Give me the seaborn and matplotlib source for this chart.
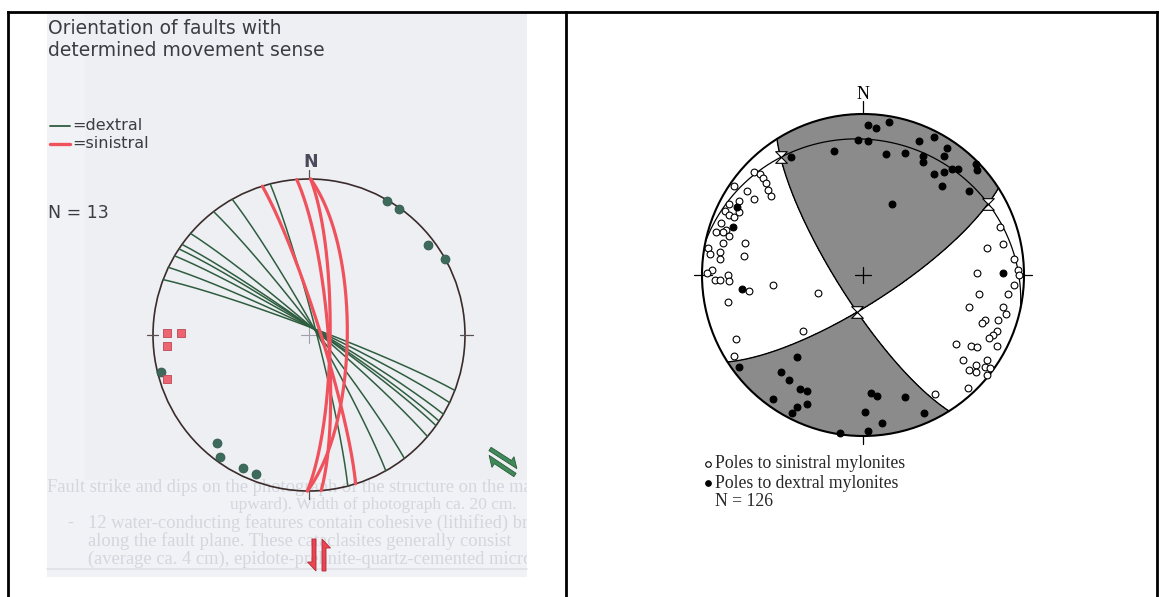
import numpy as np
import matplotlib
matplotlib.use("Agg")
import matplotlib.pyplot as plt
from matplotlib.patches import Rectangle, Polygon, Circle
from matplotlib.path import Path
import seaborn as sns

W, H = 1159, 597

# ---------------- left net: faults with determined movement sense ----------------
# fault planes as (dip direction, dip) in degrees
dextral_dipdir = [75.6, 60.5, 52.3, 40.6, 35.5, 33.5, 30.5, 25.7, 20.8]
dextral_dip = [86, 86, 86, 86, 86, 86, 86, 86, 86]
sinistral_dipdir = [72.6, 85.5, 90.6, 90.6]
sinistral_dip = [84, 80, 70, 79]
# poles, as east / north offsets in net radii
dextral_pole_e = [0.50, 0.58, 0.76, 0.87, -0.95, -0.59, -0.57, -0.42, -0.34]
dextral_pole_n = [0.86, 0.81, 0.58, 0.49, -0.24, -0.69, -0.78, -0.85, -0.89]
sinistral_pole_e = [-0.91, -0.82, -0.91, -0.91]
sinistral_pole_n = [0.01, 0.01, -0.07, -0.28]

# ---------------- right net: mylonites ----------------
nodal_dipdir = [237.7, 147.3]
nodal_dip = [77.2, 75.6]
girdle_dipdir = 12.0
girdle_dip = 17.0

dextral_myl_e = [0.03, 0.08, 0.16, -0.03, 0.03, -0.18, -0.45, 0.14, 0.26, 0.35, 0.44, 0.52,
                 0.37, 0.37, 0.50, 0.44, 0.50, 0.55, 0.59, 0.70, 0.71, 0.49, 0.66, 0.18,
                 -0.78, -0.81, -0.75, 0.87,
                 -0.77, -0.41, -0.51, -0.46, -0.39, -0.35, -0.56, -0.41, -0.35, -0.44,
                 0.05, 0.09, 0.26, 0.01, 0.12, 0.38, -0.14, 0.03]
dextral_myl_n = [0.93, 0.91, 0.95, 0.84, 0.83, 0.77, 0.73, 0.75, 0.76, 0.83, 0.86, 0.79,
                 0.74, 0.70, 0.74, 0.63, 0.64, 0.66, 0.66, 0.69, 0.65, 0.55, 0.52, 0.44,
                 0.42, 0.30, -0.09, 0.01,
                 -0.57, -0.51, -0.60, -0.65, -0.71, -0.72, -0.77, -0.82, -0.80, -0.86,
                 -0.73, -0.75, -0.76, -0.85, -0.92, -0.86, -0.98, -0.97]
sinistral_myl_e = [-0.68, -0.64, -0.62, -0.60, -0.59, -0.57, -0.72, -0.68, -0.80, -0.77,
                   -0.83, -0.86, -0.83, -0.80, -0.77, -0.88, -0.85, -0.91, -0.87, -0.83,
                   -0.87, -0.73, -0.74, -0.96, -0.95, -0.89, -0.89, -0.94, -0.97, -0.92,
                   -0.89, -0.84, -0.83, -0.56, -0.71, -0.84, -0.28, -0.37, -0.79, -0.80,
                   0.85, 0.87, 0.77, 0.94, 0.96, 0.71, 0.97, 0.94, 0.90, 0.72, 0.66, 0.87,
                   0.89, 0.76, 0.74, 0.84, 0.83, 0.81, 0.78, 0.58, 0.67, 0.71, 0.83, 0.62,
                   0.70, 0.66, 0.70, 0.77, 0.76, 0.79, 0.77, 0.65, 0.45]
sinistral_myl_n = [0.64, 0.63, 0.60, 0.57, 0.53, 0.49, 0.52, 0.47, 0.55, 0.46,
                   0.44, 0.40, 0.37, 0.36, 0.39, 0.32, 0.28, 0.27, 0.27, 0.24,
                   0.20, 0.20, 0.12, 0.17, 0.13, 0.14, 0.10, 0.03, 0.01, -0.03,
                   -0.03, 0.00, -0.04, -0.06, -0.10, -0.17, -0.11, -0.35, -0.40, -0.50,
                   0.30, 0.19, 0.17, 0.10, 0.03, 0.01, 0.00, -0.06, -0.12, -0.12, -0.20, -0.20,
                   -0.24, -0.28, -0.30, -0.28, -0.35, -0.37, -0.39, -0.43, -0.44, -0.45, -0.44, -0.53,
                   -0.56, -0.59, -0.60, -0.53, -0.57, -0.58, -0.62, -0.70, -0.74]

LEFT_TITLE = "Orientation of faults with\ndetermined movement sense"
LEFT_LEGEND = ["=dextral", "=sinistral"]
LEFT_COUNT = "N = 13"
RIGHT_LEGEND = ["Poles to sinistral mylonites", "Poles to dextral mylonites"]
RIGHT_COUNT = "N = 126"
PAGE_LINES = [
    "Fault strike and dips on the photograph of the structure on the map/bud",
    "upward). Width of photograph ca. 20 cm.",
    "12 water-conducting features contain cohesive (lithified) bri",
    "along the fault plane. These cataclasites generally consist",
    "(average ca. 4 cm), epidote-prehnite-quartz-cemented microb",
]


# ---------------- projection helpers (lower hemisphere, equal area) ----------------
def project(v):
    v = np.atleast_2d(np.asarray(v, float))
    v = v / np.linalg.norm(v, axis=1, keepdims=True)
    v = np.where(v[:, 2:3] > 0, -v, v)
    plunge = np.arcsin(np.clip(-v[:, 2], -1, 1))
    trend = np.arctan2(v[:, 0], v[:, 1])
    r = np.sqrt(2) * np.sin((np.pi / 2 - plunge) / 2)
    return r * np.sin(trend), r * np.cos(trend)


def plane_normal(dipdir, dip):
    d, p = np.radians(dipdir), np.radians(dip)
    return np.array([np.sin(d) * np.sin(p), np.cos(d) * np.sin(p), np.cos(p)])


def great_circle(dipdir, dip, n=241):
    t = np.radians(np.linspace(0, 180, n))
    st = np.radians(dipdir - 90)
    d, p = np.radians(dipdir), np.radians(dip)
    s = np.array([np.sin(st), np.cos(st), 0.0])
    dv = np.array([np.sin(d) * np.cos(p), np.cos(d) * np.cos(p), -np.sin(p)])
    v = np.outer(np.cos(t), s) + np.outer(np.sin(t), dv)
    return project(v)


def inverse_project(x, y):
    r = np.hypot(x, y)
    colat = 2 * np.arcsin(np.clip(r / np.sqrt(2), 0, 1))
    trend = np.arctan2(x, y)
    return np.stack([np.sin(colat) * np.sin(trend),
                     np.sin(colat) * np.cos(trend),
                     -np.cos(colat)], axis=-1)


def net_axes(fig, cx, cy, R, pad=1.3):
    ax = fig.add_axes([(cx - pad * R) / W, 1 - (cy + pad * R) / H,
                       2 * pad * R / W, 2 * pad * R / H])
    ax.set_xlim(-pad, pad)
    ax.set_ylim(-pad, pad)
    ax.axis("off")
    ax.patch.set_alpha(0)
    return ax


def half_arrow(ax, p0, p1, outward, color, edge, t=4.0, hl=9.0, bw=4.5):
    p0, p1, nv = np.array(p0, float), np.array(p1, float), np.array(outward, float)
    u = (p1 - p0) / np.linalg.norm(p1 - p0)
    nv = nv / np.linalg.norm(nv)
    pts = [p0 - nv * t / 2, p1 - nv * t / 2, p1 - u * hl + nv * (t / 2 + bw),
           p1 - u * hl + nv * t / 2, p0 + nv * t / 2]
    ax.add_patch(Polygon(pts, closed=True, facecolor=color, edgecolor=edge, lw=0.6, zorder=3))


sns.set_theme(style="white")
plt.rcParams["font.family"] = ["DejaVu Sans"]

fig = plt.figure(figsize=(W / 100, H / 100), dpi=100)
fig.patch.set_facecolor("white")

bg = fig.add_axes([0, 0, 1, 1])
bg.set_xlim(0, W)
bg.set_ylim(H, 0)
bg.axis("off")

# scanned page behind the left net
page = Rectangle((47, 14), 480, 563, facecolor="#f1f2f6", edgecolor="none", zorder=0)
bg.add_patch(page)
bg.add_patch(Rectangle((85, 14), 442, 466, facecolor="#edeff3", edgecolor="none", zorder=0.5))
bg.plot([47, 527], [569, 569], color="#dfe1e7", lw=1.2, zorder=1)
FAINT = "#d3d6dd"
for (x, y, txt, fs) in [(47, 487, PAGE_LINES[0], 13.3), (230, 505, PAGE_LINES[1], 12.5),
                        (88, 523, PAGE_LINES[2], 13.3), (88, 541, PAGE_LINES[3], 13.3),
                        (88, 559, PAGE_LINES[4], 13.3)]:
    t = bg.text(x, y, txt, fontsize=fs, family="Liberation Serif", color=FAINT,
                va="center", ha="left", zorder=1, clip_on=True)
    t.set_clip_path(page)
bg.text(67, 523, "-", fontsize=13.3, family="Liberation Serif", color=FAINT, va="center")

# table frame
frame_kw = dict(color="black", lw=2.0, solid_capstyle="projecting", zorder=10)
bg.plot([8, 1157], [12, 12], **frame_kw)
bg.plot([8, 8], [12, H], **frame_kw)
bg.plot([566, 566], [12, H], **frame_kw)
bg.plot([1157, 1157], [12, H], **frame_kw)

# left panel texts
INK = "#3c3c42"
bg.text(48, 19, LEFT_TITLE, fontsize=13.5, color=INK, va="top", ha="left",
        linespacing=1.2, zorder=5)
GREEN, RED = "#2f5d3f", "#f0525d"
bg.plot([50, 70], [126, 126], color=GREEN, lw=1.3, zorder=5)
bg.plot([50, 70], [144, 144], color=RED, lw=2.4, zorder=5)
bg.text(72, 125, LEFT_LEGEND[0], fontsize=11.5, color=INK, va="center", zorder=5)
bg.text(72, 143, LEFT_LEGEND[1], fontsize=11.5, color=INK, va="center", zorder=5)
bg.text(48, 213, LEFT_COUNT, fontsize=12.5, color=INK, va="center", zorder=5)

# movement-sense symbols
half_arrow(bg, (490, 449), (518, 467), (0.55, -0.84), "#3f8a58", "#2a5a3a")
half_arrow(bg, (515, 475), (488, 457), (-0.55, 0.84), "#3f8a58", "#2a5a3a")
half_arrow(bg, (314, 539), (314, 571), (-1, 0), "#ea4552", "#b02a35")
half_arrow(bg, (324, 571), (324, 539), (1, 0), "#ea4552", "#b02a35")

# ---------------- left net ----------------
axL = net_axes(fig, 309, 335, 156)
axL.add_patch(Circle((0, 0), 1, fill=False, ec="#3b2b2b", lw=1.2, zorder=2))
for x0, x1, y0, y1 in [(0, 0, 1.0, 1.06), (0, 0, -1.0, -1.05), (-1.04, -0.97, 0, 0),
                       (0.97, 1.05, 0, 0)]:
    axL.plot([x0, x1], [y0, y1], color="#5a5050", lw=0.9, zorder=2)
axL.plot([-0.05, 0.05], [0, 0], color="#a0a0ac", lw=0.8, zorder=1)
axL.plot([0, 0], [-0.05, 0.05], color="#a0a0ac", lw=0.8, zorder=1)
axL.text(0.01, 1.11, "N", fontsize=12.5, fontweight="bold", color="#4a4a5c",
         ha="center", va="center")
for dd, dp in zip(dextral_dipdir, dextral_dip):
    x, y = great_circle(dd, dp)
    sns.lineplot(x=x, y=y, sort=False, estimator=None, ax=axL, color=GREEN, lw=1.1, zorder=3)
for dd, dp in zip(sinistral_dipdir, sinistral_dip):
    x, y = great_circle(dd, dp)
    sns.lineplot(x=x, y=y, sort=False, estimator=None, ax=axL, color=RED, lw=2.3, zorder=4)
sns.scatterplot(x=dextral_pole_e, y=dextral_pole_n, ax=axL, marker="o", s=42,
                color="#3d6a5b", edgecolor="#2f5548", linewidth=0.5, zorder=5, legend=False)
sns.scatterplot(x=sinistral_pole_e, y=sinistral_pole_n, ax=axL, marker="s", s=26,
                color="#ee6470", edgecolor="#b84a55", linewidth=0.6, zorder=5, legend=False)

# ---------------- right net ----------------
axR = net_axes(fig, 863, 275, 161)
# shaded quadrants between the two nodal planes
g = np.linspace(-1.0, 1.0, 700)
gx, gy = np.meshgrid(g, g)
vec = inverse_project(gx, gy)
n1 = plane_normal(nodal_dipdir[0], nodal_dip[0])
n2 = plane_normal(nodal_dipdir[1], nodal_dip[1])
quad = (vec @ n1) * (vec @ n2)
quad = np.ma.masked_where(np.hypot(gx, gy) > 1.0, quad)
axR.contourf(gx, gy, quad, levels=[0, 10], colors=["#8b8b8b"], zorder=1)
for dd, dp in zip(nodal_dipdir, nodal_dip):
    x, y = great_circle(dd, dp)
    sns.lineplot(x=x, y=y, sort=False, estimator=None, ax=axR, color="black", lw=1.0, zorder=3)
x, y = great_circle(girdle_dipdir, girdle_dip)
sns.lineplot(x=x, y=y, sort=False, estimator=None, ax=axR, color="black", lw=0.9, zorder=3)
axR.add_patch(Circle((0, 0), 1, fill=False, ec="black", lw=1.5, zorder=4))
for x0, x1, y0, y1 in [(0, 0, 1.0, 1.08), (0, 0, -1.0, -1.05), (-1.05, -0.94, 0, 0),
                       (0.95, 1.05, 0, 0)]:
    axR.plot([x0, x1], [y0, y1], color="black", lw=0.9, zorder=4)
axR.plot([-0.05, 0.05], [0, 0], color="black", lw=0.9, zorder=4)
axR.plot([0, 0], [-0.05, 0.05], color="black", lw=0.9, zorder=4)
axR.text(0.0, 1.12, "N", fontsize=13, family="Liberation Serif", color="black",
         ha="center", va="center")

# beta axes: intersections of the planes
ng = plane_normal(girdle_dipdir, girdle_dip)
beta = np.array([np.cross(n1, n2), np.cross(n1, ng), np.cross(n2, ng)])
bx, by = project(beta)
hourglass = Path([(-1, 1), (1, 1), (-1, -1), (1, -1), (-1, 1)],
                 [Path.MOVETO, Path.LINETO, Path.LINETO, Path.LINETO, Path.CLOSEPOLY])
axR.scatter(bx, by, marker=hourglass, s=70, facecolor="white", edgecolor="black",
            linewidth=0.8, zorder=6)

sns.scatterplot(x=sinistral_myl_e, y=sinistral_myl_n, ax=axR, marker="o", s=24,
                color="white", edgecolor="black", linewidth=0.8, zorder=7, legend=False)
sns.scatterplot(x=dextral_myl_e, y=dextral_myl_n, ax=axR, marker="o", s=24,
                color="black", edgecolor="black", linewidth=0.8, zorder=7, legend=False)

# right legend
bg.scatter([708], [464], s=16, facecolor="white", edgecolor="black", linewidth=0.8, zorder=5)
bg.scatter([708], [483], s=16, facecolor="black", edgecolor="black", linewidth=0.8, zorder=5)
bg.text(715, 464, RIGHT_LEGEND[0], fontsize=12.7, family="Liberation Serif", va="center", zorder=5)
bg.text(715, 483, RIGHT_LEGEND[1], fontsize=12.7, family="Liberation Serif", va="center", zorder=5)
bg.text(715, 501, RIGHT_COUNT, fontsize=12.7, family="Liberation Serif", va="center", zorder=5)

fig.savefig("out.png", dpi=100)
